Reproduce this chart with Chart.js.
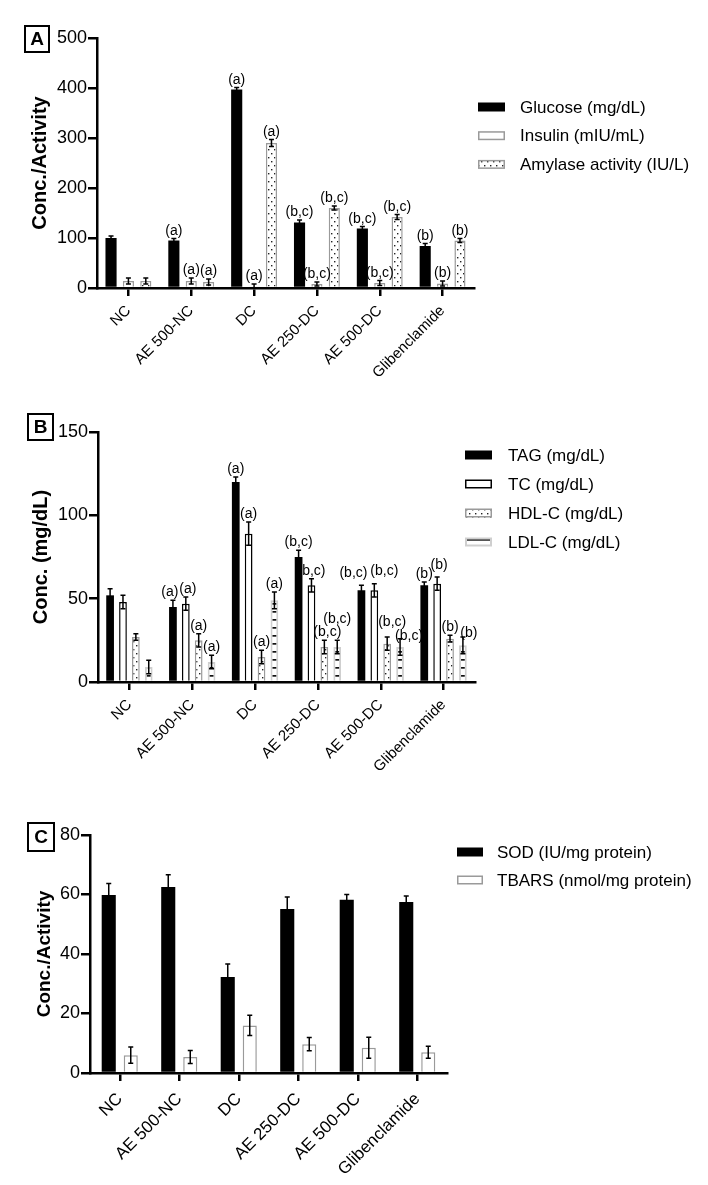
<!DOCTYPE html>
<html><head><meta charset="utf-8">
<script src="https://cdn.jsdelivr.net/npm/chart.js@4.4.0/dist/chart.umd.min.js"></script>
<style>
body{margin:0;background:#fff;width:708px;height:1185px;position:relative;overflow:hidden;font-family:"Liberation Sans",Arial,sans-serif}
canvas{position:absolute;left:0}
.plbl{position:absolute;border:2px solid #000;font-weight:bold;font-size:19px;text-align:center;box-sizing:border-box;color:#000}
</style></head><body>
<canvas id="cA" width="708" height="400" style="top:0px"></canvas>
<canvas id="cB" width="708" height="400" style="top:400px"></canvas>
<canvas id="cC" width="708" height="385" style="top:800px"></canvas>
<div class="plbl" style="left:24px;top:25px;width:26px;height:28px;line-height:24px">A</div>
<div class="plbl" style="left:27px;top:413px;width:27px;height:28px;line-height:24px">B</div>
<div class="plbl" style="left:27px;top:822px;width:28px;height:30px;line-height:26px">C</div>
<script>
// ---------- DATA ----------
const categories = ['NC', 'AE 500-NC', 'DC', 'AE 250-DC', 'AE 500-DC', 'Glibenclamide'];

// Panel A
const glucose     = [100, 95, 397, 131, 119, 84];
const glucoseErr  = [4, 4, 4, 5, 4, 5];
const insulin     = [14, 14, 3, 8, 10, 9];
const insulinErr  = [6, 6, 5, 4, 5, 5];
const amylase     = [14, 12, 290, 160, 142, 95];
const amylaseErr  = [6, 6, 7, 4, 5, 4];
const glucoseSig  = ['', '(a)', '(a)', '(b,c)', '(b,c)', '(b)'];
const insulinSig  = ['', '(a)', '(a)', '(b,c)', '(b,c)', '(b)'];
const amylaseSig  = ['', '(a)', '(a)', '(b,c)', '(b,c)', '(b)'];
const ticksA = [0, 100, 200, 300, 400, 500];

// Panel B
const tag     = [52, 45, 120, 75, 55, 58];
const tagErr  = [4, 4, 3, 4, 3, 2];
const tc      = [48, 47, 89, 58, 55, 59];
const tcErr   = [4, 4, 7, 4, 4, 4];
const hdl     = [27, 25, 15, 21, 23, 26];
const hdlErr  = [2, 4, 4, 4, 4, 2];
const ldl     = [9, 12, 49, 21, 21, 22];
const ldlErr  = [4, 4, 5, 4, 5, 5];
const tagSig  = ['', '(a)', '(a)', '(b,c)', '(b,c)', '(b)'];
const tcSig   = ['', '(a)', '(a)', '(b,c)', '(b,c)', '(b)'];
const hdlSig  = ['', '(a)', '(a)', '(b,c)', '(b,c)', '(b)'];
const ldlSig  = ['', '(a)', '(a)', '(b,c)', '(b,c)', '(b)'];
const ticksB = [0, 50, 100, 150];

// Panel C
const sod      = [59.8, 62.5, 32.3, 55.1, 58.2, 57.5];
const sodErr   = [3.9, 4.1, 4.3, 4.1, 1.8, 2.0];
const tbars    = [6.0, 5.4, 16.0, 9.7, 8.5, 7.0];
const tbarsErr = [2.7, 2.2, 3.4, 2.2, 3.5, 2.0];
const ticksC = [0, 20, 40, 60, 80];

// ---------- STYLE ----------
const FONT = '"Liberation Sans", Arial, sans-serif';
Chart.defaults.font.family = FONT;
Chart.defaults.color = '#000';

function makeDots() {
  const c = document.createElement('canvas'); c.width = 6; c.height = 8;
  const x = c.getContext('2d');
  x.fillStyle = '#fff'; x.fillRect(0, 0, 6, 8);
  x.fillStyle = '#222';
  x.fillRect(1, 1, 1.4, 1.4); x.fillRect(4, 5, 1.4, 1.4);
  return x.createPattern(c, 'repeat');
}
function makeDashes() {
  const c = document.createElement('canvas'); c.width = 8; c.height = 8;
  const x = c.getContext('2d');
  x.fillStyle = '#fff'; x.fillRect(0, 0, 8, 8);
  x.fillStyle = '#111';
  x.fillRect(0, 3, 8, 1.7);
  return x.createPattern(c, 'repeat');
}
const dots = makeDots();
const dashes = makeDashes();

// Error bars plugin
const errorBars = {
  id: 'errorBars',
  afterDatasetsDraw(chart) {
    const ctx = chart.ctx, y = chart.scales.y;
    ctx.save();
    ctx.strokeStyle = '#000';
    ctx.lineWidth = 1.5;
    chart.data.datasets.forEach((ds, di) => {
      const meta = chart.getDatasetMeta(di);
      if (!ds.errors) return;
      meta.data.forEach((bar, i) => {
        const v = ds.data[i], e = ds.errors[i];
        const yt = y.getPixelForValue(v + e), yb = y.getPixelForValue(Math.max(0, v - e));
        const cap = 2.5;
        ctx.beginPath();
        ctx.moveTo(bar.x, yt); ctx.lineTo(bar.x, yb);
        ctx.moveTo(bar.x - cap, yt); ctx.lineTo(bar.x + cap, yt);
        ctx.moveTo(bar.x - cap, yb); ctx.lineTo(bar.x + cap, yb);
        ctx.stroke();
      });
    });
    ctx.restore();
  }
};

// Significance labels plugin
const sigLabels = {
  id: 'sigLabels',
  afterDatasetsDraw(chart, args, opts) {
    if (!opts || !opts.show) return;
    const ctx = chart.ctx, y = chart.scales.y;
    const nudges = opts.nudges || {};
    ctx.save();
    ctx.font = '14px ' + FONT;
    ctx.fillStyle = '#000';
    ctx.textAlign = 'center';
    ctx.textBaseline = 'alphabetic';
    chart.data.datasets.forEach((ds, di) => {
      if (!ds.sig) return;
      const meta = chart.getDatasetMeta(di);
      meta.data.forEach((bar, i) => {
        const t = ds.sig[i]; if (!t) return;
        const n = nudges[di + '-' + i] || [0, 0];
        const yt = y.getPixelForValue(ds.data[i] + ds.errors[i]);
        ctx.fillText(t, bar.x + n[0], yt - 4 + n[1]);
      });
    });
    ctx.restore();
  }
};

// Custom legend plugin
const sideLegend = {
  id: 'sideLegend',
  afterDraw(chart, args, o) {
    if (!o || !o.show) return;
    const ctx = chart.ctx;
    ctx.save();
    ctx.font = o.fontSize + 'px ' + FONT;
    ctx.textBaseline = 'middle';
    ctx.textAlign = 'left';
    chart.data.datasets.forEach((ds, i) => {
      const cy = o.y0 + i * o.step;
      const x = o.x, w = o.w, h = o.h;
      ctx.fillStyle = ds.backgroundColor;
      ctx.fillRect(x, cy - h / 2, w, h);
      if (ds.borderWidth) {
        ctx.strokeStyle = ds.borderColor;
        ctx.lineWidth = ds.borderWidth;
        ctx.strokeRect(x + ds.borderWidth / 2, cy - h / 2 + ds.borderWidth / 2, w - ds.borderWidth, h - ds.borderWidth);
      }
      ctx.fillStyle = '#000';
      ctx.fillText(ds.label, o.tx, cy + 1);
    });
    ctx.restore();
  }
};
Chart.register(errorBars, sigLabels, sideLegend);

function makeChart(id, cfg) {
  const H = document.getElementById(id).height;
  return new Chart(document.getElementById(id), {
    type: 'bar',
    data: { labels: categories, datasets: cfg.datasets },
    options: {
      responsive: false,
      animation: false,
      devicePixelRatio: 1,
      layout: { padding: { left: 0, top: cfg.top, right: 708 - cfg.right, bottom: 0 } },
      datasets: { bar: { categoryPercentage: cfg.catPct, barPercentage: cfg.barPct } },
      plugins: {
        legend: { display: false },
        tooltip: { enabled: false },
        sigLabels: cfg.sig,
        sideLegend: cfg.legend
      },
      scales: {
        x: {
          offset: true,
          grid: { display: true, drawOnChartArea: false, drawTicks: true, tickLength: 8, color: '#000', lineWidth: 2.5, offset: false },
          border: { display: true, color: '#000', width: 2.5 },
          ticks: { color: '#000', font: { size: cfg.xFont }, minRotation: 45, maxRotation: 45, autoSkip: false, padding: cfg.xPad },
          afterFit: s => { s.height = H - cfg.bottom; }
        },
        y: {
          min: cfg.ticks[0], max: cfg.ticks[cfg.ticks.length - 1],
          afterBuildTicks: s => { s.ticks = cfg.ticks.map(v => ({ value: v })); },
          grid: { display: true, drawOnChartArea: false, drawTicks: true, tickLength: 9, color: '#000', lineWidth: 2.5 },
          border: { display: true, color: '#000', width: 2.5 },
          ticks: { color: '#000', font: { size: 18 }, padding: 1 },
          title: { display: true, text: cfg.yTitle, color: '#000', font: { size: cfg.titleSize, weight: 'bold' }, padding: { top: cfg.titlePad, bottom: 0 } },
          afterFit: s => { s.width = cfg.left; }
        }
      }
    }
  });
}

// Panel A
makeChart('cA', {
  top: 38, bottom: 288, left: 97, right: 474,
  catPct: 0.83, barPct: 0.64, xFont: 15, xPad: 6,
  ticks: ticksA, yTitle: 'Conc./Activity', titleSize: 20, titlePad: 28,
  sig: { show: true, nudges: {} },
  legend: { show: true, x: 478, w: 27, h: 9, y0: 107, step: 28.7, tx: 520, fontSize: 17 },
  datasets: [
    { label: 'Glucose (mg/dL)', data: glucose, errors: glucoseErr, sig: glucoseSig, backgroundColor: '#000', borderWidth: 0 },
    { label: 'Insulin (mIU/mL)', data: insulin, errors: insulinErr, sig: insulinSig, backgroundColor: '#fff', borderColor: '#9a9a9a', borderWidth: 1.5 },
    { label: 'Amylase activity (IU/L)', data: amylase, errors: amylaseErr, sig: amylaseSig, backgroundColor: dots, borderColor: '#9a9a9a', borderWidth: 1.5 }
  ]
});

// Panel B
makeChart('cB', {
  top: 32, bottom: 282, left: 98, right: 475,
  catPct: 0.82, barPct: 0.6, xFont: 15, xPad: 6,
  ticks: ticksB, yTitle: 'Conc. (mg/dL)', titleSize: 20, titlePad: 29,
  sig: { show: true, nudges: {
    '0-1': [-3, 0], '1-1': [2, 0],
    '2-3': [3, 0], '3-3': [0, -13],
    '0-4': [-8, -4], '1-4': [10, -5], '2-4': [5, -7], '3-4': [9, 5],
    '1-5': [2, -4], '3-5': [6, 4]
  } },
  legend: { show: true, x: 465, w: 27, h: 9, y0: 55, step: 29, tx: 508, fontSize: 17 },
  datasets: [
    { label: 'TAG (mg/dL)', data: tag, errors: tagErr, sig: tagSig, backgroundColor: '#000', borderWidth: 0 },
    { label: 'TC (mg/dL)', data: tc, errors: tcErr, sig: tcSig, backgroundColor: '#fff', borderColor: '#000', borderWidth: 1.5 },
    { label: 'HDL-C (mg/dL)', data: hdl, errors: hdlErr, sig: hdlSig, backgroundColor: dots, borderColor: '#9a9a9a', borderWidth: 1.5 },
    { label: 'LDL-C (mg/dL)', data: ldl, errors: ldlErr, sig: ldlSig, backgroundColor: dashes, borderColor: '#cfcfcf', borderWidth: 2 }
  ]
});

// Panel C
makeChart('cC', {
  top: 35, bottom: 273, left: 90, right: 447,
  catPct: 0.74, barPct: 0.64, xFont: 17, xPad: 8,
  ticks: ticksC, yTitle: 'Conc./Activity', titleSize: 19, titlePad: 33,
  sig: { show: false },
  legend: { show: true, x: 457, w: 26, h: 9, y0: 52, step: 28, tx: 497, fontSize: 17 },
  datasets: [
    { label: 'SOD (IU/mg protein)', data: sod, errors: sodErr, backgroundColor: '#000', borderWidth: 0 },
    { label: 'TBARS (nmol/mg protein)', data: tbars, errors: tbarsErr, backgroundColor: '#fff', borderColor: '#9a9a9a', borderWidth: 1.5 }
  ]
});
</script>
</body></html>
